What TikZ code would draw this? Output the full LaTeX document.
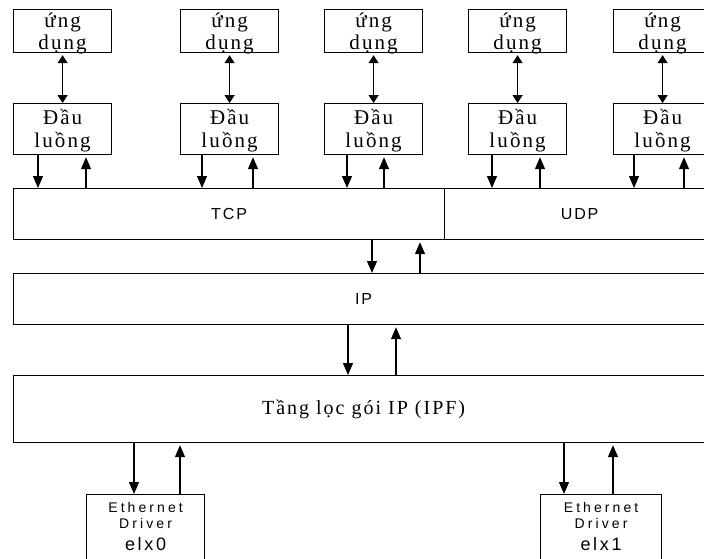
\documentclass[tikz,border=0pt]{standalone}
\usepackage{fontspec}
\usetikzlibrary{arrows.meta}
% Vietnamese serif labels, tracked a little
\newfontfamily\vnfont[LetterSpace=10]{Liberation Serif}
\newfontfamily\vnwide[LetterSpace=10]{Liberation Serif}
% sans labels for protocol layers and drivers
\newfontfamily\lblfont[LetterSpace=12]{Liberation Sans}
\newfontfamily\ethfont[LetterSpace=22]{Liberation Sans}
\newfontfamily\elxfont[LetterSpace=15]{Liberation Sans}

\begin{document}
\begin{tikzpicture}[x=1pt,y=-1pt,
  box/.style={draw=black, line width=1.2pt, rectangle, inner sep=0pt, anchor=north west},
  appbox/.style={box, minimum width=98pt, minimum height=43pt, align=center,
    text height=40pt, text depth=3pt, font=\vnfont\fontsize{21}{22}\selectfont},
  flowbox/.style={box, minimum width=98pt, minimum height=51pt, align=center,
    text height=40pt, text depth=3pt, font=\vnfont\fontsize{21}{23}\selectfont},
  layerbox/.style={box, minimum height=51pt, font=\lblfont\fontsize{16}{18}\selectfont},
  ipfbox/.style={box, minimum width=700pt, minimum height=67pt,
    font=\vnwide\fontsize{20}{22}\selectfont},
  ethbox/.style={box, minimum height=80pt},
  ethtext/.style={anchor=base, inner sep=0pt, font=\ethfont\fontsize{14}{16}\selectfont},
  elxtext/.style={anchor=base, inner sep=0pt, font=\elxfont\fontsize{18}{20}\selectfont},
  arr/.style={line width=1.2pt, -{Triangle[length=12pt,width=10pt]}},
  dbl/.style={line width=1.2pt, {Triangle[length=8pt,width=10pt]}-{Triangle[length=8pt,width=10pt]},
    shorten <=2pt},
]
\useasboundingbox (0,0) rectangle (704,558);
\clip (0,0) rectangle (704,558);

% applications and their stream heads
\foreach \i/\x in {1/13, 2/180, 3/324, 4/468, 5/613} {
  \node[appbox]  (a\i) at (\x,9)   {ứng\\dụng};
  \node[flowbox] (d\i) at (\x,103) {Đầu\\luồng};
  \draw[dbl] (a\i.south) -- (d\i.north);
}

% transport, network and filter layers
\node[layerbox, minimum width=431pt] (tcp) at (13,188) {TCP};
\node[layerbox, minimum width=270pt] (udp) at (444,188) {UDP};
\node[layerbox, minimum width=700pt] (ip)  at (13,273) {IP};
\node[ipfbox] (ipf) at (13,375) {Tầng lọc gói IP (IPF)};

% Ethernet drivers
\node[ethbox, minimum width=118pt] (eth0) at (86,494) {};
\node[ethbox, minimum width=121pt] (eth1) at (540,494) {};
\foreach \e/\n in {eth0/0, eth1/1} {
  \node[ethtext] (\e l1) at ([yshift=-18pt]\e.north) {Ethernet};
  \node[ethtext] (\e l2) at ([yshift=-34pt]\e.north) {Driver};
  \node[elxtext] (\e l3) at ([yshift=-56pt]\e.north) {elx\n};
}

% stream heads <-> TCP / UDP
\foreach \i/\dn/\up/\L in {1/25/73/tcp, 2/22/73/tcp, 3/23/60/tcp, 4/24/72/udp, 5/21/71/udp} {
  \coordinate (dn\i) at ([xshift=\dn pt]d\i.south west);
  \coordinate (up\i) at ([xshift=\up pt]d\i.south west);
  \draw[arr] (dn\i) -- (dn\i |- \L.north);
  \draw[arr, shorten >=2pt] (up\i |- \L.north) -- (up\i);
}

% TCP <-> IP
\draw[arr] ([xshift=359pt]tcp.south west) -- ([xshift=359pt]ip.north west);
\draw[arr, shorten >=2pt] ([xshift=407pt]ip.north west) -- ([xshift=407pt]tcp.south west);

% IP <-> IPF
\draw[arr] ([xshift=335pt]ip.south west) -- ([xshift=335pt]ipf.north west);
\draw[arr, shorten >=2pt] ([xshift=383pt]ipf.north west) -- ([xshift=383pt]ip.south west);

% IPF <-> drivers
\coordinate (e0dn) at ([xshift=48pt]eth0.north west);
\coordinate (e0up) at ([xshift=94pt]eth0.north west);
\coordinate (e1dn) at ([xshift=24pt]eth1.north west);
\coordinate (e1up) at ([xshift=73pt]eth1.north west);
\draw[arr] (e0dn |- ipf.south) -- (e0dn);
\draw[arr, shorten >=2pt] (e0up) -- (e0up |- ipf.south);
\draw[arr] (e1dn |- ipf.south) -- (e1dn);
\draw[arr, shorten >=2pt] (e1up) -- (e1up |- ipf.south);
\end{tikzpicture}
\end{document}
